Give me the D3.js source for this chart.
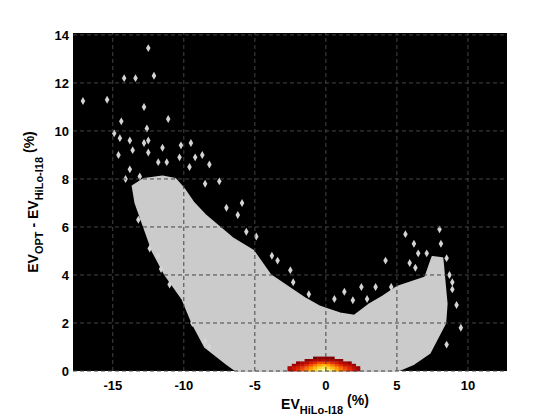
<!DOCTYPE html>
<html><head><meta charset="utf-8">
<script src="https://cdn.jsdelivr.net/npm/d3@7"></script>
<style>body{margin:0;background:#fff;} text{font-family:"Liberation Sans",Arial,sans-serif;font-weight:bold;}</style>
</head><body>
<script>
const width = 560, height = 420;
const margin = {left: 73, top: 33, right: 53, bottom: 49};

const xTicks = [-15, -10, -5, 0, 5, 10];
const yTicks = [0, 2, 4, 6, 8, 10, 12, 14];

// outline of the dense cloud of points
const cloudX = [-6.3,-7.0,-8.5,-9.4,-10.1,-11.3,-12.2,-12.8,-13.4,-13.6,-12.8,-11.5,-10.6,-10.0,-9.3,-8.5,-7.5,-6.5,-5.1,-3.9,-1.4,-0.5,0,1,2,3,4,5,6,7,7.5,8.2,8.5,8.4,7.3,6.2,5.2,4.7];
const cloudY = [0,0.3,1,2,3,4,5,6,7,7.7,8.0,8.1,8.0,7.6,7.0,6.5,6.0,5.5,5.0,4.0,3.0,2.7,2.6,2.4,2.3,2.75,3.1,3.5,3.7,3.9,4.75,4.7,2.8,2.0,0.75,0.3,0.05,0];

// scattered points outside the dense cloud
const ptX = [-17.1,-15.4,-14.2,-13.4,-12.1,-12.5,-12.8,-11.1,-14.4,-12.6,-14.9,-14.5,-13.8,-12.8,-12.5,-13.6,-14.6,-12.5,-11.5,-10.2,-9.5,-10.3,-9.2,-8.7,-8.2,-11.8,-11.2,-9.6,-13.8,-13.1,-14.1,-7.5,-8.5,-5.9,-6.2,-7.0,-13.2,-12.4,-11.8,-11.6,-11.0,-4.9,-5.6,-3.4,-3.8,-2.5,-2.3,-1.2,-9.4,-8.5,-8.2,
  5.6,8.0,6.2,8.1,6.5,7.1,4.2,5.9,6.3,8.5,8.7,8.9,8.9,9.2,8.5,1.3,0.6,2.5,3.5,1.9,2.9,4.6,9.5];
const ptY = [11.25,11.3,12.2,12.2,12.3,13.45,11.0,10.5,10.4,10.1,9.9,9.7,9.6,9.5,9.6,9.2,9.0,9.1,9.3,9.4,9.5,8.9,8.9,9.0,8.6,8.7,8.7,8.5,8.4,8.1,8.0,7.9,7.8,7.0,6.5,6.8,6.3,5.1,4.8,4.25,3.6,5.6,5.8,4.6,4.8,4.2,3.7,3.2,2.0,1.25,1.0,
  5.7,5.9,5.3,5.3,4.9,4.9,4.6,4.5,4.3,4.7,4.0,3.7,3.4,2.75,1.1,3.3,3.0,3.5,3.5,2.95,3.0,3.5,1.8];

// density of the hot core near the origin, bottom row first
const heatX0 = -2.7, heatDx = 0.3, heatDy = 0.1;
const heat = [
  [0.2,0.3,0.4,0.5,0.6,0.7,0.8,0.95,1.0,0.95,0.85,0.7,0.6,0.5,0.4,0.3,0.2],
  [0.2,0.3,0.35,0.45,0.55,0.65,0.75,0.85,0.9,0.85,0.75,0.65,0.55,0.45,0.35,0.25,0.15],
  [0,0.15,0.25,0.3,0.4,0.5,0.6,0.7,0.75,0.7,0.6,0.5,0.4,0.3,0.25,0.15,0],
  [0,0,0.1,0.2,0.25,0.35,0.4,0.5,0.5,0.5,0.4,0.35,0.25,0.2,0.1,0,0],
  [0,0,0,0,0.1,0.15,0.2,0.2,0.25,0.2,0.2,0.15,0.1,0,0,0,0],
  [0,0,0,0,0,0,0.05,0.08,0.1,0.08,0.05,0,0,0,0,0,0]
];

const svg = d3.select("body").append("svg").attr("width", width).attr("height", height);
const x = d3.scaleLinear().domain([-17.8, 12.75]).range([margin.left, width - margin.right]);
const y = d3.scaleLinear().domain([0, 14.08]).range([height - margin.bottom, margin.top]);

svg.append("rect").attr("x", margin.left).attr("y", margin.top)
  .attr("width", x.range()[1] - margin.left).attr("height", y.range()[0] - margin.top).attr("fill", "#000");

svg.append("path")
  .attr("d", d3.line().x(d => x(d[0])).y(d => y(d[1]))(cloudX.map((v, i) => [v, cloudY[i]])) + "Z")
  .attr("fill", "#cbcbcb").attr("stroke", "#cbcbcb").attr("stroke-width", 2).attr("stroke-linejoin", "round");

const diamond = d3.symbol().type(d3.symbolDiamond).size(18);
svg.selectAll("path.pt").data(ptX).enter().append("path").attr("class", "pt")
  .attr("transform", (d, i) => `translate(${x(d)},${y(ptY[i])})`)
  .attr("d", diamond).attr("fill", "#d4d4d4");

const hot = d3.scaleSequential(d3.interpolateRgbBasis(["#6a0000", "#b00000", "#e82000", "#ff8000", "#ffd000", "#ffffa0"])).domain([0, 1]);
heat.forEach((row, r) => row.forEach((v, c) => {
  if (v <= 0) return;
  svg.append("rect")
    .attr("x", x(heatX0 + c * heatDx)).attr("y", y((r + 1) * heatDy))
    .attr("width", x(heatDx) - x(0) + 0.3).attr("height", y(0) - y(heatDy) + 0.3)
    .attr("fill", hot(v));
}));

// dashed grid on top
svg.selectAll("line.gx").data(xTicks).enter().append("line")
  .attr("x1", d => x(d)).attr("x2", d => x(d)).attr("y1", y(0)).attr("y2", margin.top)
  .attr("stroke", "#444").attr("stroke-dasharray", "4,3");
svg.selectAll("line.gy").data(yTicks).enter().append("line")
  .attr("y1", d => y(d)).attr("y2", d => y(d)).attr("x1", margin.left).attr("x2", x.range()[1])
  .attr("stroke", "#444").attr("stroke-dasharray", "4,3");

svg.selectAll("text.xt").data(xTicks).enter().append("text")
  .attr("x", d => x(d)).attr("y", y(0) + 19).attr("text-anchor", "middle").attr("font-size", 13).text(d => d);
svg.selectAll("text.yt").data(yTicks).enter().append("text")
  .attr("x", margin.left - 4).attr("y", d => y(d) + 5).attr("text-anchor", "end").attr("font-size", 13).text(d => d);

const xl = svg.append("text").attr("x", 325).attr("y", 409).attr("text-anchor", "middle").attr("font-size", 14);
xl.append("tspan").text("EV");
xl.append("tspan").attr("font-size", 11).attr("dy", 5).text("HiLo-I18");
xl.append("tspan").attr("dy", -9).text(" (%)");

const yl = svg.append("text").attr("transform", "translate(38,202) rotate(-90)").attr("text-anchor", "middle").attr("font-size", 14);
yl.append("tspan").text("EV");
yl.append("tspan").attr("font-size", 11).attr("dy", 5).text("OPT");
yl.append("tspan").attr("dy", -5).text(" - EV");
yl.append("tspan").attr("font-size", 11).attr("dy", 5).text("HiLo-I18");
yl.append("tspan").attr("dy", -9).text(" (%)");
</script>
</body></html>
